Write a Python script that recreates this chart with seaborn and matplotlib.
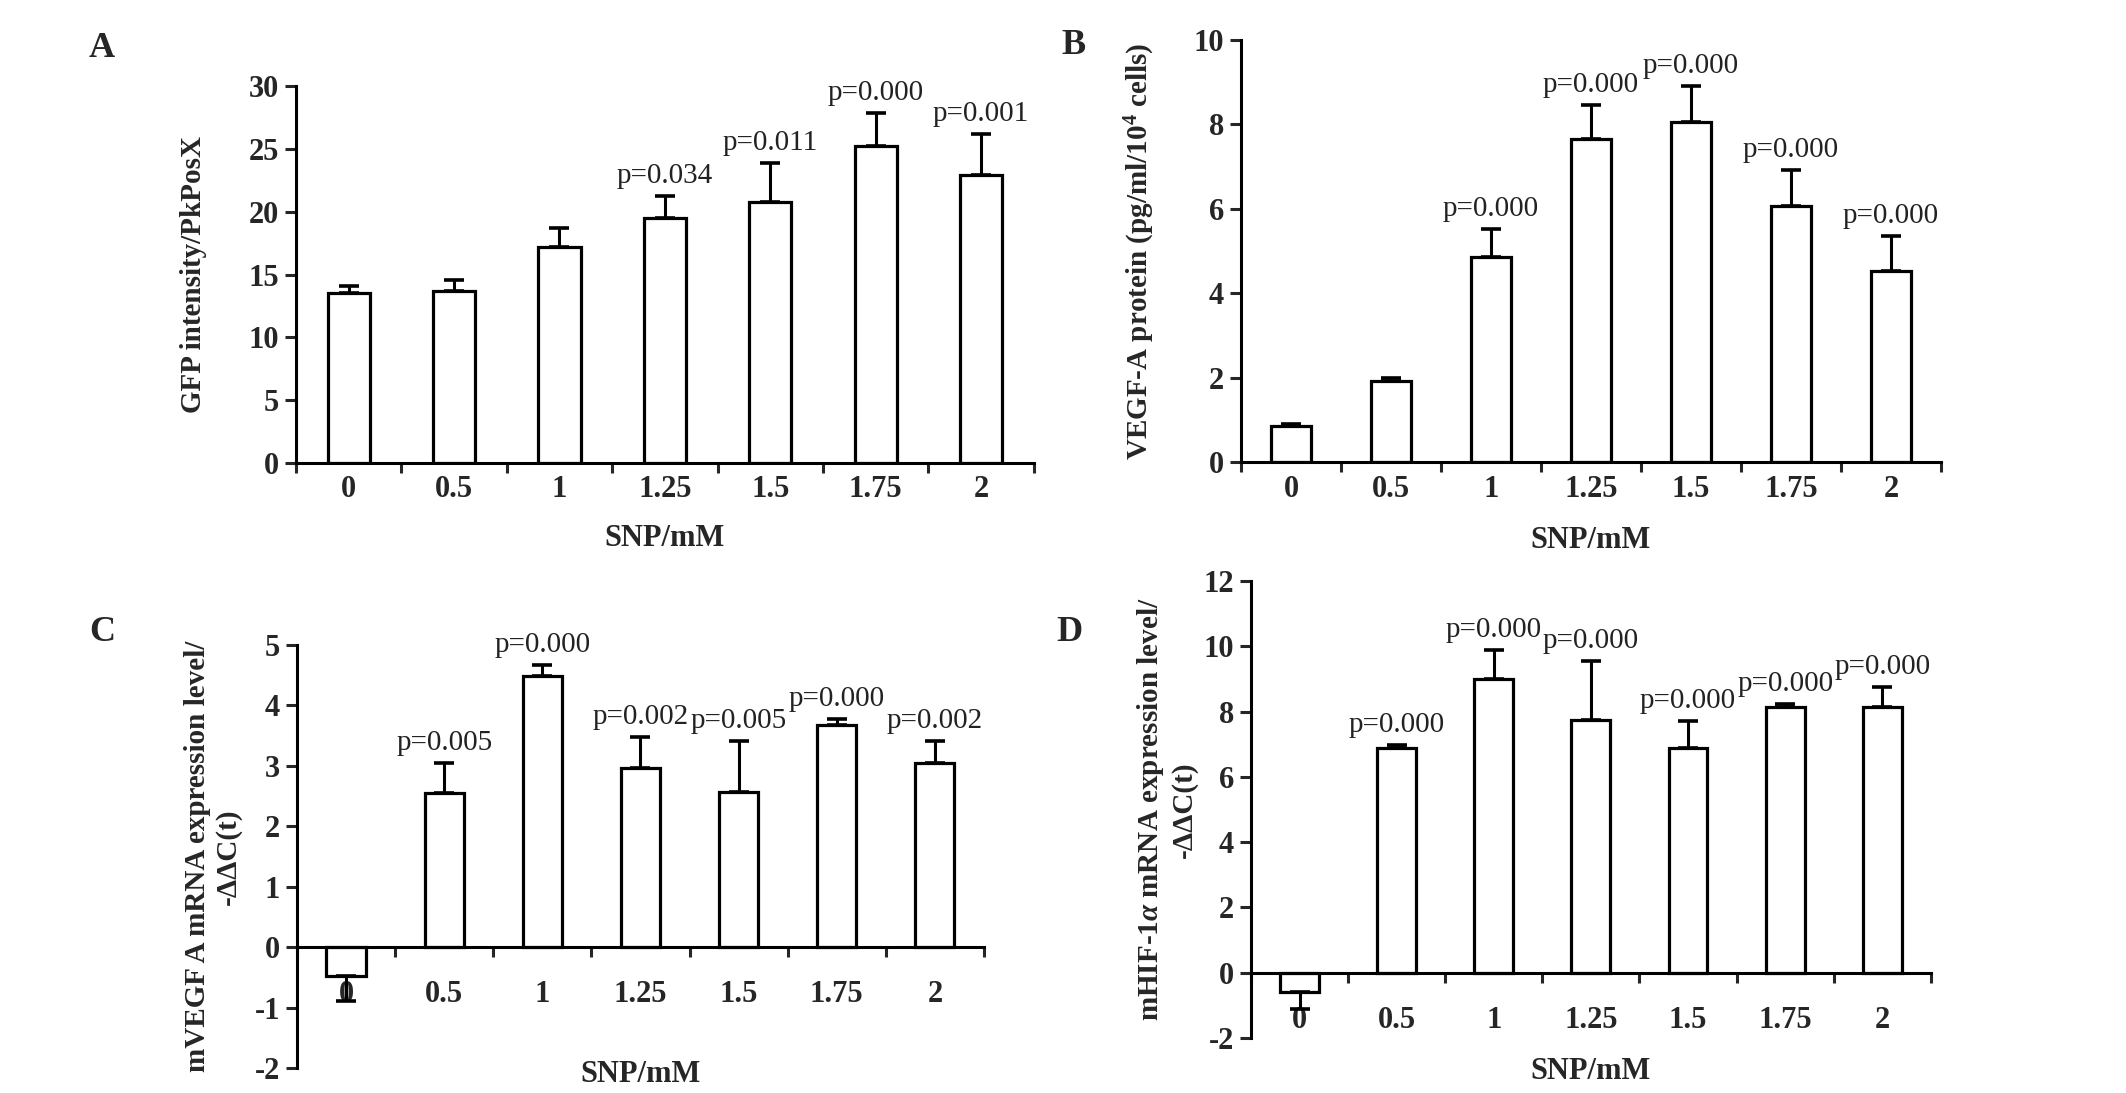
import numpy as np
import pandas as pd
import matplotlib
matplotlib.use("Agg")
import matplotlib.pyplot as plt
import seaborn as sns

doses = ["0", "0.5", "1", "1.25", "1.5", "1.75", "2"]

# A: GFP intensity
gfp_mean = [13.5, 13.65, 17.15, 19.5, 20.75, 25.2, 22.95]
gfp_err = [0.55, 0.9, 1.55, 1.75, 3.1, 2.65, 3.2]
gfp_p = ["", "", "", "p=0.034", "p=0.011", "p=0.000", "p=0.001"]

# B: VEGF-A protein
prot_mean = [0.86, 1.93, 4.86, 7.66, 8.05, 6.06, 4.53]
prot_err = [0.05, 0.06, 0.67, 0.79, 0.87, 0.85, 0.83]
prot_p = ["", "", "p=0.000", "p=0.000", "p=0.000", "p=0.000", "p=0.000"]

# C: mVEGF A mRNA
vegf_mean = [-0.48, 2.55, 4.48, 2.96, 2.56, 3.67, 3.05]
vegf_err = [0.41, 0.49, 0.19, 0.52, 0.85, 0.11, 0.36]
vegf_p = ["", "p=0.005", "p=0.000", "p=0.002", "p=0.005", "p=0.000", "p=0.002"]

# D: mHIF-1a mRNA
hif_mean = [-0.6, 6.89, 9.0, 7.75, 6.89, 8.15, 8.15]
hif_err = [0.5, 0.1, 0.9, 1.8, 0.81, 0.08, 0.6]
hif_p = ["", "p=0.000", "p=0.000", "p=0.000", "p=0.000", "p=0.000", "p=0.000"]

sns.set_style("ticks")
plt.rcParams["font.family"] = ["Liberation Serif", "DejaVu Serif"]
plt.rcParams["font.weight"] = "bold"
plt.rcParams["axes.unicode_minus"] = False
plt.rcParams["mathtext.fontset"] = "custom"
plt.rcParams["mathtext.rm"] = "Liberation Serif:bold"
plt.rcParams["mathtext.it"] = "Liberation Serif:italic:bold"
plt.rcParams["mathtext.bf"] = "Liberation Serif:bold"

LW = 2.2


def draw_panel(ax, mean, err, pvals, ylim, yticks, ylabel, zero_axis, tick_pad,
               ylab_x, xlab_y):
    df = pd.DataFrame({"dose": doses, "value": mean})
    sns.barplot(data=df, x="dose", y="value", order=doses, color="white",
                edgecolor="black", linewidth=2.3, width=0.4, saturation=1,
                errorbar=None, ax=ax)
    mean = np.array(mean)
    err = np.array(err)
    lower = np.where(mean < 0, err, 0)
    upper = np.where(mean >= 0, err, 0)
    ax.errorbar(np.arange(len(doses)), mean, yerr=[lower, upper], fmt="none",
                ecolor="black", elinewidth=2.2, capsize=7, capthick=2.6, zorder=5)
    for i, p in enumerate(pvals):
        if p:
            ax.annotate(p, (i, mean[i] + upper[i]), xytext=(0, 5),
                        textcoords="offset points", ha="center", va="bottom",
                        fontsize=21, fontweight="normal", color="#222222")

    sns.despine(ax=ax)
    if zero_axis:
        ax.spines["bottom"].set_position(("data", 0))
    for s in ["left", "bottom"]:
        ax.spines[s].set_linewidth(LW)
        ax.spines[s].set_color("black")

    ax.set_xlim(-0.5, 6.5)
    ax.set_ylim(*ylim)
    ax.set_yticks(yticks)
    ax.set_xticks(range(len(doses)))
    ax.set_xticklabels(doses)
    ax.set_xticks(np.arange(-0.5, 7, 1), minor=True)
    ax.tick_params(axis="x", which="major", length=0, pad=tick_pad, labelsize=22)
    ax.tick_params(axis="x", which="minor", length=7, width=LW, direction="out")
    ax.tick_params(axis="y", which="major", length=8, width=LW, direction="out",
                   pad=4, labelsize=22)
    ax.set_ylabel(ylabel, fontsize=21, fontweight="bold", linespacing=1.2)
    ax.yaxis.set_label_coords(ylab_x, 0.5)
    ax.set_xlabel("SNP/mM", fontsize=22, fontweight="bold")
    ax.xaxis.set_label_coords(0.5, xlab_y)


fig = plt.figure(figsize=(21.26, 10.93), dpi=100)
ax_a = fig.add_axes([0.1392, 0.5764, 0.3471, 0.3449])
ax_b = fig.add_axes([0.5837, 0.5773, 0.3293, 0.3861])
ax_c = fig.add_axes([0.1397, 0.0229, 0.3231, 0.3870])
ax_d = fig.add_axes([0.5884, 0.0503, 0.3198, 0.4181])

draw_panel(ax_a, gfp_mean, gfp_err, gfp_p, (0, 30), [0, 5, 10, 15, 20, 25, 30],
           "GFP intensity/PkPosX", False, 9, -0.121, -0.162)
draw_panel(ax_b, prot_mean, prot_err, prot_p, (0, 10), [0, 2, 4, 6, 8, 10],
           "VEGF-A protein (pg/ml/10$^4$ cells)", False, 9, -0.12, -0.152)
draw_panel(ax_c, vegf_mean, vegf_err, vegf_p, (-2, 5), [-2, -1, 0, 1, 2, 3, 4, 5],
           "mVEGF A mRNA expression level/\n-ΔΔC(t)", True, 24, -0.08, 0.019)
draw_panel(ax_d, hif_mean, hif_err, hif_p, (-2, 12), [-2, 0, 2, 4, 6, 8, 10, 12],
           "mHIF-1$\\alpha$ mRNA expression level/\n-ΔΔC(t)", True, 24, -0.078, -0.042)

for letter, x, y in [("A", 0.048, 0.956), ("B", 0.505, 0.958),
                     ("C", 0.048, 0.421), ("D", 0.503, 0.421)]:
    fig.text(x, y, letter, fontsize=26, fontweight="bold", ha="center", va="center")

fig.savefig("out.png", dpi=100)
